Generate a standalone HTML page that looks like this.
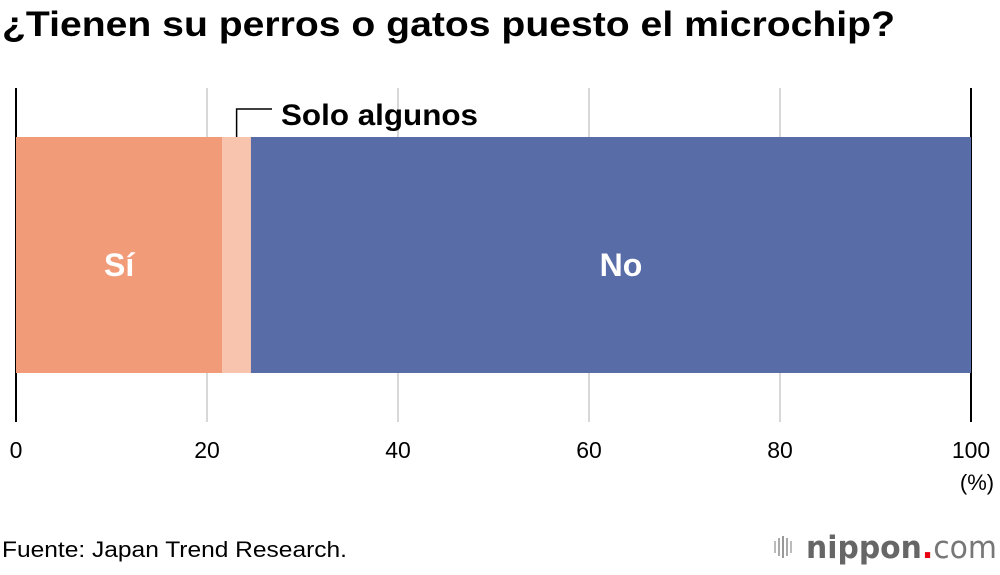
<!DOCTYPE html>
<html><head><meta charset="utf-8"><style>
body{margin:0;background:#fff;width:1000px;height:570px;overflow:hidden;font-family:"Liberation Sans",Arial,sans-serif}
</style></head><body>
<svg width="1000" height="570" xmlns="http://www.w3.org/2000/svg">
<text x="2" y="36" font-size="35" font-weight="bold" fill="#000" textLength="893" lengthAdjust="spacingAndGlyphs">¿Tienen su perros o gatos puesto el microchip?</text>
<g id="grid"></g>
<g id="bars"></g>
<g id="ticks"></g>
<text x="977" y="490" font-size="22" text-anchor="middle" fill="#000">(%)</text>
<text x="2" y="557" font-size="22" fill="#000" textLength="345" lengthAdjust="spacingAndGlyphs">Fuente: Japan Trend Research.</text>
<g>
<rect x="774" y="541" width="2" height="12" fill="#bbb"/><rect x="778" y="538" width="2" height="18" fill="#aaa"/><rect x="782" y="536" width="2" height="22" fill="#999"/><rect x="786" y="538" width="2" height="18" fill="#aaa"/><rect x="790" y="541" width="2" height="12" fill="#bbb"/>
<text x="806" y="558" font-size="31" font-weight="bold" fill="#666" textLength="191" lengthAdjust="spacingAndGlyphs" font-family="DejaVu Sans,sans-serif">nippon<tspan fill="#e60012">.</tspan><tspan font-weight="normal" fill="#777">com</tspan></text>
</g>
</svg>
<script>
const categories=["Sí","Solo algunos","No"];
const values=[21.6,3.0,75.4];
const colors=["#f29b79","#f8c4ae","#586ca8"];
const ticks=[0,20,40,60,80,100];
const NS="http://www.w3.org/2000/svg";
const xs=v=>16+v*9.55;
const barTop=137,barBot=373;
function mk(t,a,p){const e=document.createElementNS(NS,t);for(const k in a)e.setAttribute(k,a[k]);p.appendChild(e);return e;}
const grid=document.getElementById('grid'),bars=document.getElementById('bars'),tk=document.getElementById('ticks');
ticks.forEach(t=>{
 const edge=(t===0||t===100);
 const l=mk('line',{x1:xs(t),x2:xs(t),y1:88,y2:422,stroke:edge?'#000':'#ccc','stroke-width':edge?2:1.5},grid);
 
 
 const tx=mk('text',{x:xs(t),y:458,'font-size':23,'text-anchor':'middle',fill:'#000'},tk);
 tx.textContent=t;
 
 
});
let acc=0;
values.forEach((v,i)=>{
 const r=mk('rect',{x:xs(acc),y:barTop,width:xs(acc+v)-xs(acc),height:barBot-barTop,fill:colors[i]},bars);
 
 
 if(i!==1){
  const off=i===2?10:0;
  const t=mk('text',{x:(xs(acc)+xs(acc+v))/2+off,y:276,'font-size':32,'font-weight':'bold','text-anchor':'middle',fill:'#fff'},bars);
  t.textContent=categories[i];
  
  
 } else {
  const cx=(xs(acc)+xs(acc+v))/2;
  const p=mk('polyline',{points:`${cx},${barTop} ${cx},109 272,109`,fill:'none',stroke:'#000','stroke-width':1.5},bars);
  
  
  const t=mk('text',{x:281,y:125,'font-size':30,'font-weight':'bold',fill:'#000',textLength:197,lengthAdjust:'spacingAndGlyphs'},bars);
  t.textContent=categories[i];
  
  
 }
 acc+=v;
});
</script>
</body></html>
